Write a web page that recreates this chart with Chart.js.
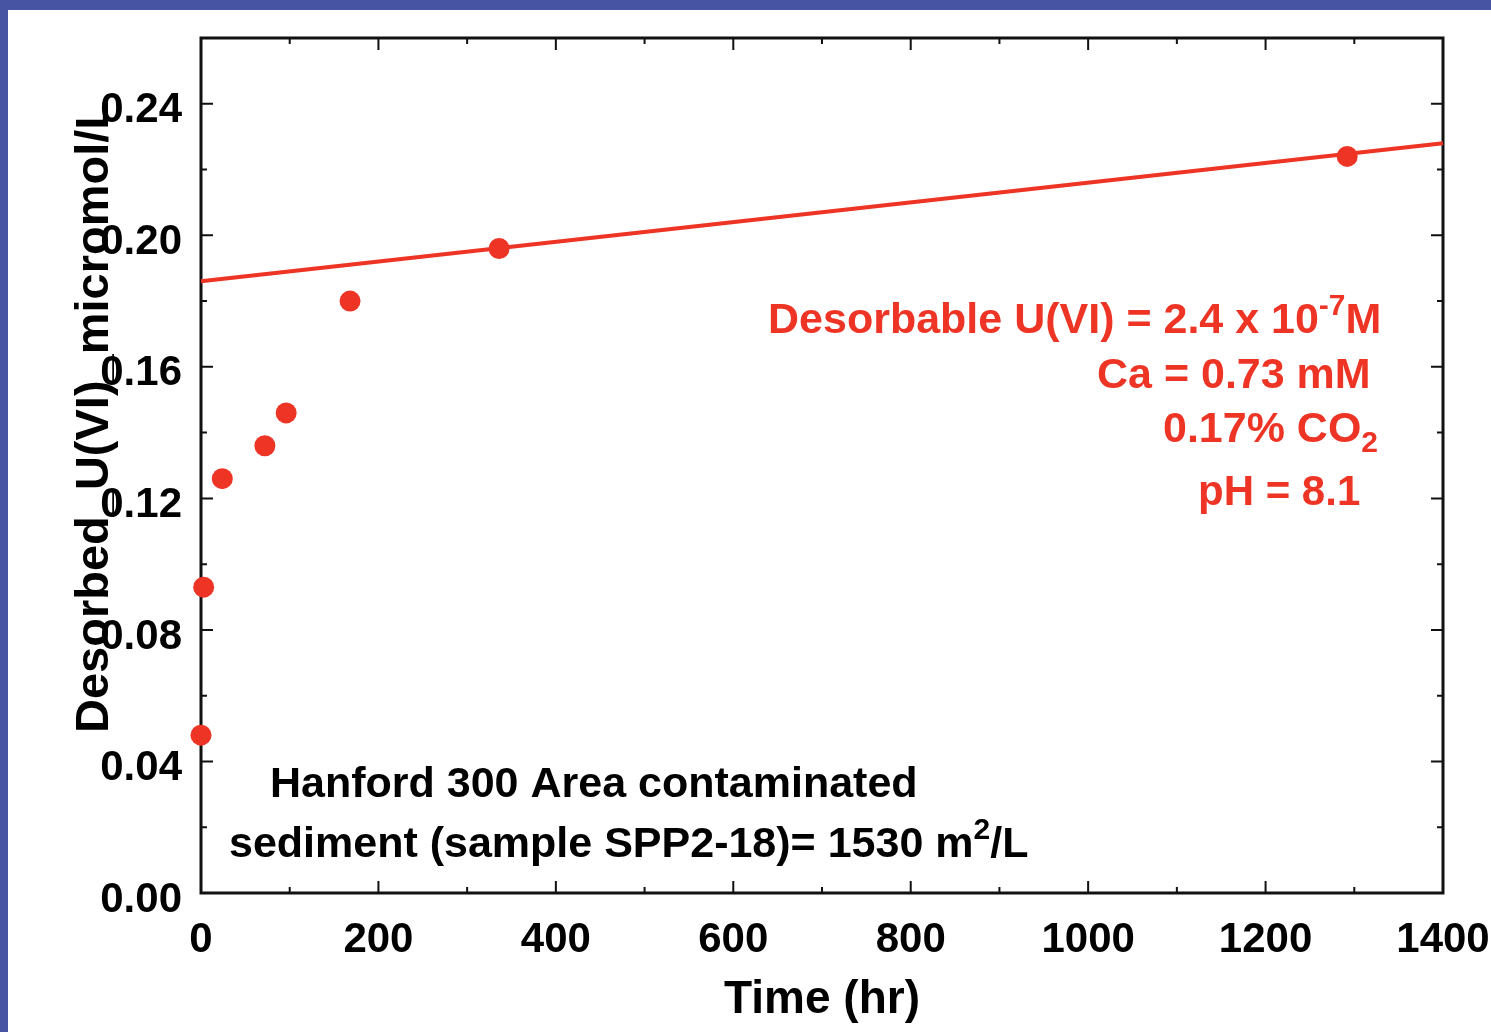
<!DOCTYPE html>
<html>
<head>
<meta charset="utf-8">
<title>Desorbed U(VI) vs time</title>
<script src="https://cdn.jsdelivr.net/npm/chart.js@4.4.1/dist/chart.umd.min.js"></script>
<style>
  html, body { margin: 0; padding: 0; background: #4754a3; overflow: hidden; }
  #wrap { position: absolute; left: 8px; top: 10px; width: 1483px; height: 1022px; background: #fff; }
</style>
</head>
<body>
<div id="wrap"><canvas id="desorb" width="1483" height="1022"></canvas></div>
<script>
// measured desorption points
const timeHr = [0, 3, 24, 72, 96, 168, 336, 1292];
const uviConc = [0.048, 0.093, 0.126, 0.136, 0.146, 0.180, 0.196, 0.224];

// linear trend through the late-time data
const fitTime = [0, 1400];
const fitConc = [0.186, 0.228];

const xTicks = [0, 200, 400, 600, 800, 1000, 1200, 1400];
const yTicks = [0.00, 0.04, 0.08, 0.12, 0.16, 0.20, 0.24];

const RED = '#ee3424';
const FONT = '"Liberation Sans", Arial, Helvetica, sans-serif';

const pts = timeHr.map((t, i) => ({ x: t, y: uviConc[i] }));
const fitPts = fitTime.map((t, i) => ({ x: t, y: fitConc[i] }));

// draw a line of text made of runs (for super/subscripts)
function drawRuns(ctx, x, y, runs, color) {
  ctx.fillStyle = color;
  ctx.textAlign = 'left';
  ctx.textBaseline = 'alphabetic';
  let cx = x;
  for (const r of runs) {
    ctx.font = 'bold ' + r.size + 'px ' + FONT;
    ctx.fillText(r.t, cx, y + (r.dy || 0));
    cx += ctx.measureText(r.t).width;
  }
}

// box frame with inward major/minor ticks on all four sides
const framePlugin = {
  id: 'frame',
  beforeDatasetsDraw(chart) {
    const { ctx, chartArea: a, scales } = chart;
    const xs = scales.x, ys = scales.y;
    ctx.save();
    ctx.strokeStyle = '#111';
    ctx.lineWidth = 3;
    ctx.strokeRect(a.left, a.top, a.right - a.left, a.bottom - a.top);

    ctx.lineWidth = 2;
    ctx.beginPath();
    for (let i = 0; i < xTicks.length; i++) {
      const px = xs.getPixelForValue(xTicks[i]);
      if (i > 0 && i < xTicks.length - 1) {
        ctx.moveTo(px, a.bottom); ctx.lineTo(px, a.bottom - 12);
        ctx.moveTo(px, a.top); ctx.lineTo(px, a.top + 12);
      }
      if (i < xTicks.length - 1) {
        const mx = xs.getPixelForValue((xTicks[i] + xTicks[i + 1]) / 2);
        ctx.moveTo(mx, a.bottom); ctx.lineTo(mx, a.bottom - 6);
        ctx.moveTo(mx, a.top); ctx.lineTo(mx, a.top + 6);
      }
    }
    for (let i = 0; i < yTicks.length; i++) {
      const py = ys.getPixelForValue(yTicks[i]);
      if (i > 0) {
        ctx.moveTo(a.left, py); ctx.lineTo(a.left + 12, py);
        ctx.moveTo(a.right, py); ctx.lineTo(a.right - 12, py);
      }
      if (i < yTicks.length - 1) {
        const my = ys.getPixelForValue((yTicks[i] + yTicks[i + 1]) / 2);
        ctx.moveTo(a.left, my); ctx.lineTo(a.left + 6, my);
        ctx.moveTo(a.right, my); ctx.lineTo(a.right - 6, my);
      }
    }
    ctx.stroke();
    ctx.restore();
  },
  afterDraw(chart) {
    const { ctx, chartArea: a } = chart;
    ctx.save();

    // axis titles
    ctx.fillStyle = '#000';
    ctx.font = 'bold 46px ' + FONT;
    ctx.textAlign = 'center';
    ctx.textBaseline = 'alphabetic';
    ctx.fillText('Time (hr)', (a.left + a.right) / 2, 1003);

    ctx.save();
    ctx.translate(100, 407);
    ctx.rotate(-Math.PI / 2);
    ctx.font = 'bold 47px ' + FONT;
    ctx.fillText('Desorbed_U(VI)_micromol/L', 0, 0);
    ctx.restore();

    // conditions
    drawRuns(ctx, 760, 323, [
      { t: 'Desorbable U(VI) = 2.4 x 10', size: 43 },
      { t: '-7', size: 30, dy: -18 },
      { t: 'M', size: 43 }
    ], RED);
    drawRuns(ctx, 1089, 378, [{ t: 'Ca = 0.73 mM', size: 43 }], RED);
    drawRuns(ctx, 1155, 432, [
      { t: '0.17% CO', size: 43 },
      { t: '2', size: 30, dy: 10 }
    ], RED);
    drawRuns(ctx, 1190, 495, [{ t: 'pH = 8.1', size: 42 }], RED);

    // sample description
    drawRuns(ctx, 262, 787, [{ t: 'Hanford 300 Area contaminated', size: 43 }], '#000');
    drawRuns(ctx, 221, 847, [
      { t: 'sediment (sample SPP2-18)= 1530 m', size: 43 },
      { t: '2', size: 30, dy: -18 },
      { t: '/L', size: 43 }
    ], '#000');

    ctx.restore();
  }
};

new Chart(document.getElementById('desorb'), {
  type: 'scatter',
  data: {
    datasets: [
      {
        label: 'Fit',
        data: fitPts,
        showLine: true,
        borderColor: RED,
        borderWidth: 4,
        pointRadius: 0,
        clip: false,
        order: 2
      },
      {
        label: 'Desorbed U(VI)',
        data: pts,
        backgroundColor: RED,
        borderColor: RED,
        borderWidth: 0,
        pointRadius: 10.5,
        clip: false,
        order: 1
      }
    ]
  },
  options: {
    responsive: false,
    animation: false,
    layout: { padding: { left: 0, top: 28, right: 48, bottom: 0 } },
    plugins: {
      legend: { display: false },
      tooltip: { enabled: false }
    },
    scales: {
      x: {
        type: 'linear',
        min: 0,
        max: 1400,
        grid: { display: false, drawTicks: false },
        border: { display: false },
        afterBuildTicks: s => { s.ticks = xTicks.map(v => ({ value: v })); },
        afterFit: s => {
          s.height = 139;
          s.paddingLeft = 0; s.paddingRight = 0;
        },
        ticks: {
          padding: 22,
          maxRotation: 0,
          autoSkip: false,
          color: '#000',
          font: { family: FONT, size: 42, weight: 'bold' },
          callback: v => String(v)
        }
      },
      y: {
        type: 'linear',
        min: 0,
        max: 0.26,
        grid: { display: false, drawTicks: false },
        border: { display: false },
        afterBuildTicks: s => { s.ticks = yTicks.map(v => ({ value: v })); },
        afterFit: s => {
          s.width = 193;
          s.paddingTop = 0; s.paddingBottom = 0;
        },
        ticks: {
          padding: 19,
          labelOffset: 7,
          autoSkip: false,
          color: '#000',
          font: { family: FONT, size: 42, weight: 'bold' },
          callback: v => Number(v).toFixed(2)
        }
      }
    }
  },
  plugins: [framePlugin]
});
</script>
</body>
</html>
